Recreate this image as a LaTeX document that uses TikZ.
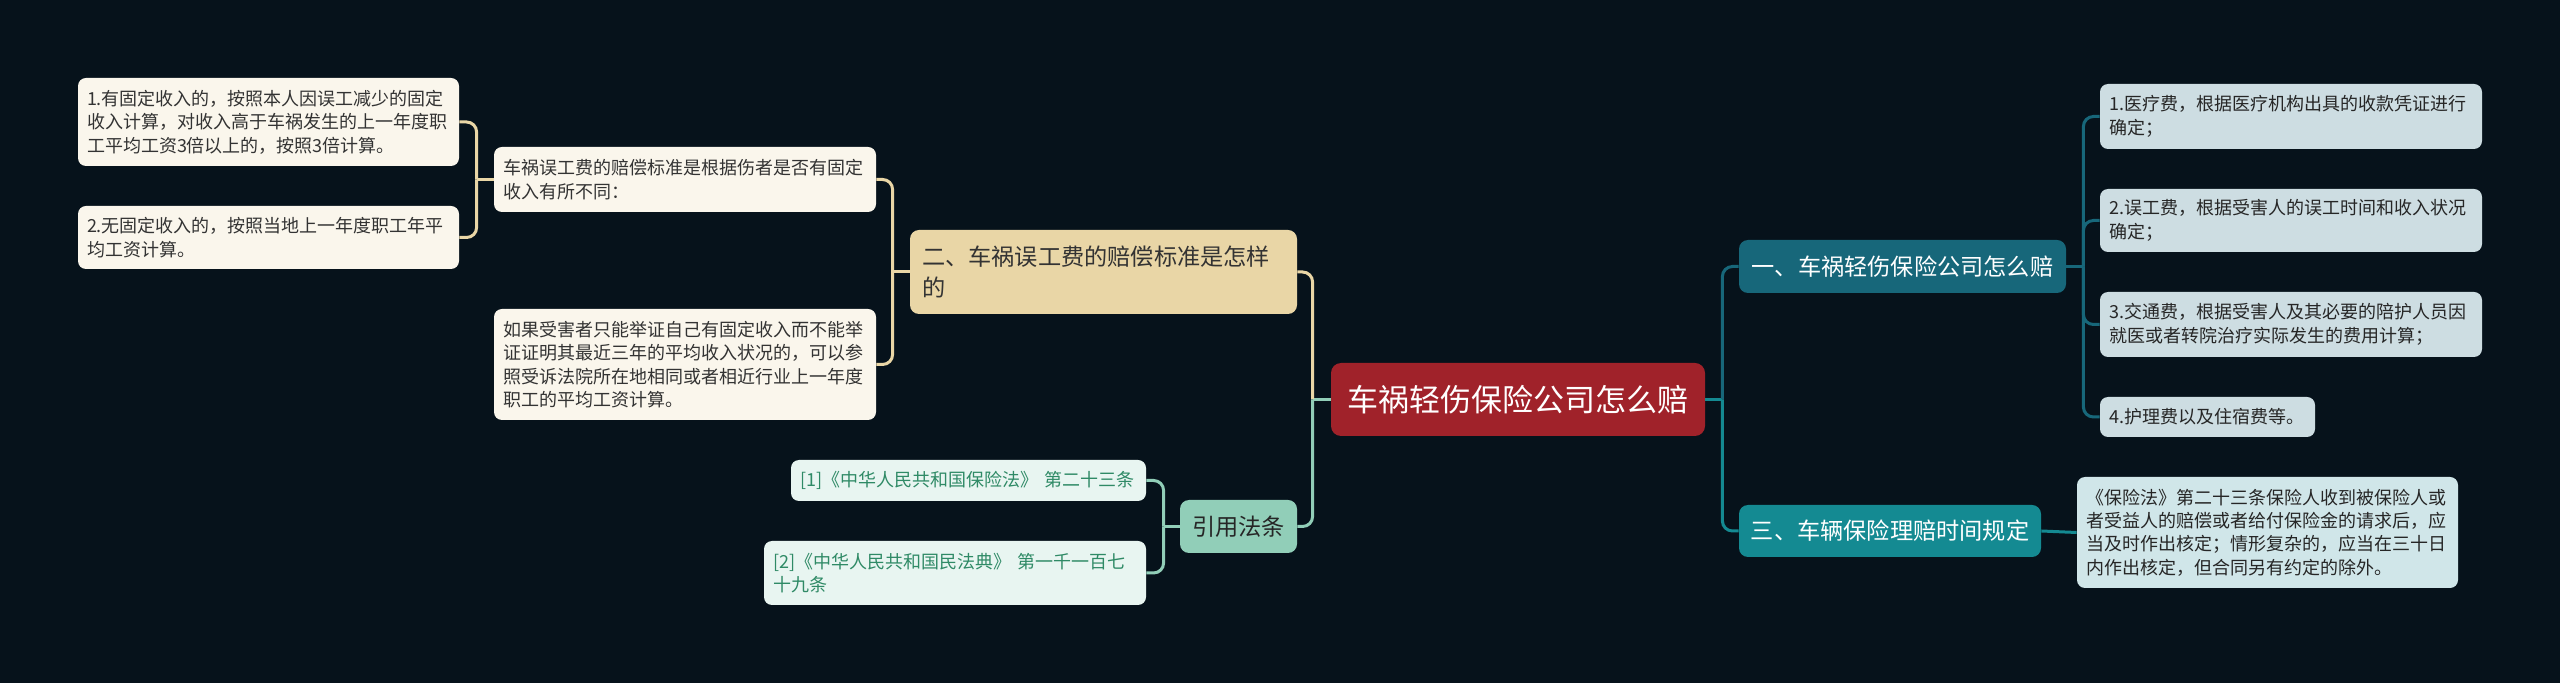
\documentclass[tikz,border=0pt]{standalone}
\usepackage{fontspec}
\usepackage{xcolor}
\usepackage{tikz}
\newfontfamily\cjk{Noto Sans CJK SC}
\definecolor{bgnavy}{HTML}{06121B}
\definecolor{rootred}{HTML}{A0222A}
\definecolor{darkteal}{HTML}{17677A}
\definecolor{lightteal}{HTML}{148A92}
\definecolor{sandbeige}{HTML}{E9D6A6}
\definecolor{creamwhite}{HTML}{FAF6EC}
\definecolor{mintgreen}{HTML}{91CEB8}
\definecolor{mintpale}{HTML}{E8F5F1}
\definecolor{steelpale}{HTML}{CDDDE2}
\definecolor{aquapale}{HTML}{D0E6E9}
\definecolor{refgreen}{HTML}{2F8A66}

\begin{document}
\begin{tikzpicture}[x=0.5pt, y=-0.5pt,
  box/.style={rounded corners=4pt, inner xsep=4.5pt, inner ysep=2pt, align=left,
              font=\cjk\fontsize{9}{11.7}\selectfont},
  mbox/.style={rounded corners=4.5pt, inner sep=0pt, align=center,
               font=\cjk\fontsize{11.6}{15.5}\selectfont},
  creambox/.style={box, fill=creamwhite, text=black!80},
  steelbox/.style={box, fill=steelpale, text=black!85},
  aquabox/.style={box, fill=aquapale, text=black!85},
  refbox/.style={box, fill=mintpale, text=refgreen},
  lnk/.style={line width=1.5pt, rounded corners=5pt},
  beigeln/.style={lnk, draw=sandbeige},
  mintln/.style={lnk, draw=mintgreen},
  dtealln/.style={lnk, draw=darkteal},
  tealln/.style={lnk, draw=lightteal},
]
\fill[bgnavy] (0,0) rectangle (2560,683);
\useasboundingbox (0,0) rectangle (2560,683);

% centre
\node[rounded corners=5pt, fill=rootred, text=white, inner sep=0pt, minimum width=187pt,
      minimum height=36.5pt, font=\cjk\fontsize{15.5}{18}\selectfont] (root) at (1518,399.5)
      {车祸轻伤保险公司怎么赔};

% main topics
\node[mbox, fill=darkteal, text=white, minimum width=163.5pt, minimum height=26.5pt] (one)
      at (1902.5,266.5) {一、车祸轻伤保险公司怎么赔};
\node[mbox, fill=lightteal, text=white, minimum width=151pt, minimum height=26pt] (three)
      at (1890,531) {三、车辆保险理赔时间规定};
\node[mbox, fill=sandbeige, text=black!80, align=left, inner xsep=6pt, text width=181.5pt,
      minimum height=42pt] (two) at (1103.5,272) {二、车祸误工费的赔偿标准是怎样\\的};
\node[mbox, fill=mintgreen, text=black!85, minimum width=58.5pt, minimum height=26.5pt] (cite)
      at (1238.5,526.5) {引用法条};

% left branch
\node[creambox, text width=182pt, minimum height=32.5pt] (mid1) at (685,179.5)
      {车祸误工费的赔偿标准是根据伤者是否有固定\\收入有所不同：};
\node[creambox, text width=182pt, minimum height=55.5pt] (mid2) at (685,364.5)
      {如果受害者只能举证自己有固定收入而不能举\\证证明其最近三年的平均收入状况的，可以参\\照受诉法院所在地相同或者相近行业上一年度\\职工的平均工资计算。};
\node[creambox, text width=181.5pt, minimum height=44pt] (lf1) at (268.5,122)
      {1.有固定收入的，按照本人因误工减少的固定\\收入计算，对收入高于车祸发生的上一年度职\\工平均工资3倍以上的，按照3倍计算。};
\node[creambox, text width=181.5pt, minimum height=31.5pt] (lf2) at (268.5,237.5)
      {2.无固定收入的，按照当地上一年度职工年平\\均工资计算。};

% references
\node[refbox, text width=168.5pt, minimum height=20.5pt] (ref1) at (968.5,480.5)
      {[1]《中华人民共和国保险法》~第二十三条};
\node[refbox, text width=182pt, minimum height=32pt] (ref2) at (955,573)
      {[2]《中华人民共和国民法典》~第一千一百七\\十九条};

% right branch
\node[steelbox, text width=182pt, minimum height=32.5pt] (r1) at (2291,116.5)
      {1.医疗费，根据医疗机构出具的收款凭证进行\\确定；};
\node[steelbox, text width=182pt, minimum height=31.5pt] (r2) at (2291,220.5)
      {2.误工费，根据受害人的误工时间和收入状况\\确定；};
\node[steelbox, text width=182pt, minimum height=32.5pt] (r3) at (2291,324.5)
      {3.交通费，根据受害人及其必要的陪护人员因\\就医或者转院治疗实际发生的费用计算；};
\node[steelbox, text width=98.5pt, minimum height=20pt] (r4) at (2207.5,417)
      {4.护理费以及住宿费等。};
\node[aquabox, text width=181.5pt, minimum height=55.5pt] (t1) at (2267.5,532.5)
      {《保险法》第二十三条保险人收到被保险人或\\者受益人的赔偿或者给付保险金的请求后，应\\当及时作出核定；情形复杂的，应当在三十日\\内作出核定，但合同另有约定的除外。};

% links
\draw[mintln] (root.west) -- ++(-18,0) coordinate (lj);
\draw[beigeln] (lj) |- (two.east); \draw[mintln] (lj) |- (cite.east);
\draw[beigeln] (two.west) -- ++(-17,0) coordinate (tj);
\draw[beigeln] (tj) |- (mid1.east); \draw[beigeln] (tj) |- (mid2.east);
\draw[beigeln] (mid1.west) -- ++(-17,0) coordinate (mj);
\draw[beigeln] (mj) |- (lf1.east); \draw[beigeln] (mj) |- (lf2.east);
\draw[mintln] (cite.west) -- ++(-16,0) coordinate (cj);
\draw[mintln] (cj) |- (ref1.east); \draw[mintln] (cj) |- (ref2.east);
\draw[tealln] (root.east) -- ++(17,0) coordinate (rj);
\draw[dtealln] (rj) |- (one.west); \draw[tealln] (rj) |- (three.west);
\draw[dtealln] (one.east) -- ++(17,0) coordinate (oj);
\draw[dtealln] (oj) |- (r1.west); \draw[dtealln] (oj) |- (r2.west);
\draw[dtealln] (oj) |- (r3.west); \draw[dtealln] (oj) |- (r4.west);
\draw[tealln] (three.east) -- (t1.west);
\end{tikzpicture}
\end{document}
